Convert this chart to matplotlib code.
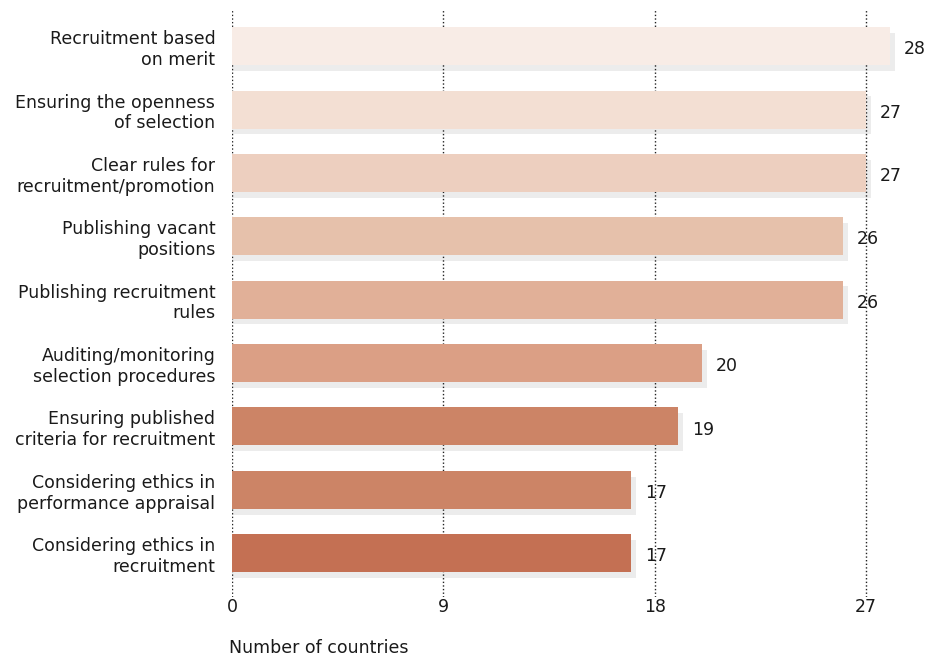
import matplotlib
matplotlib.use('Agg')
import matplotlib.pyplot as plt

# Measures of merit-based recruitment, number of countries applying each
labels = [
    "Recruitment based\non merit",
    "Ensuring the openness\nof selection",
    "Clear rules for\nrecruitment/promotion",
    "Publishing vacant\npositions",
    "Publishing recruitment\nrules",
    "Auditing/monitoring\nselection procedures",
    "Ensuring published\ncriteria for recruitment",
    "Considering ethics in\nperformance appraisal",
    "Considering ethics in\nrecruitment",
]
counts = [28, 27, 27, 26, 26, 20, 19, 17, 17]
colors = ["#f8ece6", "#f3dfd3", "#edcfbf", "#e6c1ab", "#e1b098",
          "#db9f85", "#cc8466", "#cc8466", "#c47053"]
ticks = [0, 9, 18, 27]

plt.rcParams['font.family'] = ['DejaVu Sans']
FS = 12.5
TXT = "#1a1a1a"

fig = plt.figure(figsize=(9.29, 6.56), dpi=100)
ax = fig.add_axes([232 / 929, 59 / 656, 681 / 929, 587 / 656])

ypos = list(range(len(counts)))
bar_h = 0.6
dx, dy = 0.22, 0.09

# soft drop shadow behind every bar
ax.barh([y + dy for y in ypos], [c + dx for c in counts], height=bar_h,
        color="#ececec", zorder=1)
ax.barh(ypos, counts, height=bar_h, color=colors, zorder=3)

for t in ticks:
    ax.axvline(t, color="#222222", linestyle=(0, (1, 1.6)), linewidth=1.0, zorder=2)

for y, c in zip(ypos, counts):
    ax.text(c + 0.6, y + 0.05, str(c), va='center', ha='left',
            fontsize=FS, color=TXT, zorder=4)

ax.set_xlim(0, 29)
ax.set_ylim(8.69, -0.57)
ax.set_xticks(ticks)
ax.set_xticklabels([str(t) for t in ticks], fontsize=FS, color=TXT)
ax.set_yticks(ypos)
ax.set_yticklabels(labels, fontsize=FS, color=TXT, linespacing=1.2)
ax.tick_params(axis='both', length=0)
ax.tick_params(axis='y', pad=12)
ax.tick_params(axis='x', pad=1)
for s in ax.spines.values():
    s.set_visible(False)

fig.text(229 / 929, 1 - 648 / 656, "Number of countries", fontsize=FS,
         color=TXT, ha='left', va='center')

fig.savefig("out.png", dpi=100)
